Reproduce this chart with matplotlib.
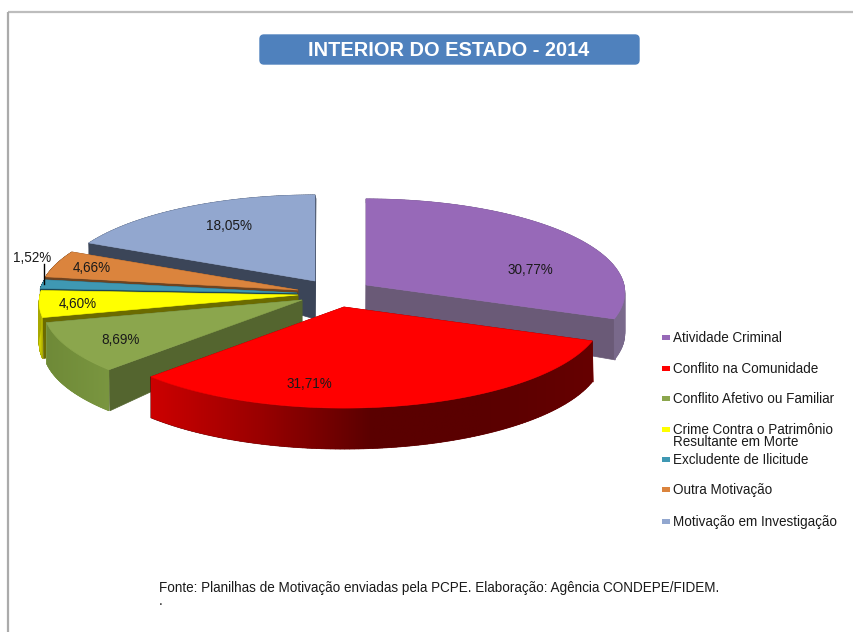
import numpy as np
import matplotlib
matplotlib.use("Agg")
import matplotlib.pyplot as plt
from matplotlib.colors import LinearSegmentedColormap
from matplotlib.patches import FancyBboxPatch, Polygon, Rectangle

plt.rcParams["font.family"] = ["Liberation Sans", "DejaVu Sans"]

categories = [
    "Atividade Criminal",
    "Conflito na Comunidade",
    "Conflito Afetivo ou Familiar",
    "Crime Contra o Patrimônio\nResultante em Morte",
    "Excludente de Ilicitude",
    "Outra Motivação",
    "Motivação em Investigação",
]
values = [30.77, 31.71, 8.69, 4.60, 1.52, 4.66, 18.05]
value_labels = ["30,77%", "31,71%", "8,69%", "4,60%", "1,52%", "4,66%", "18,05%"]

# styles per slice
top_colors = ["#9769B8", "#FF0000", "#8BA64D", "#FFFF00", "#3F98B3", "#DB843D", "#92A7CF"]
cut_colors = ["#6A5A77", "#7A0000", "#54652F", "#6B6B00", "#1C4654", "#6E4320", "#3B4558"]
# outer wall shades, left to right on screen
rim_colors = [
    ["#6F5C80", "#7A6A8C"],
    ["#CC0000", "#990000", "#5A0000", "#5A0000", "#660000"],
    ["#6F8A38", "#7A9640"],
    ["#E0E000", "#A8A800"],
    ["#1C4654", "#1C4654"],
    ["#6E4320", "#6E4320"],
    ["#3B4558", "#3B4558"],
]
# exploded position of each slice tip, in pixels
apex = [(366, 285), (344, 307), (302, 300), (298, 295), (297, 293), (298, 290), (315, 281)]
apex_depth = [32, 38, 22, 8, 4, 3, 38]
draw_order = [6, 5, 4, 3, 2, 0, 1]
label_pos = [(530, 270), (309, 384), (121, 340), (78, 304), (32, 258), (92, 268), (229, 226)]
legend_y = [338, 369, 399, 436, 460, 490, 522]

RX, RY, PERSP = 258, 93, 0.08
TEXT_SIZE = 9.75


def rim(angle, ax0, ay0):
    # angle in radians, clockwise from 12 o'clock
    u, v = np.sin(angle), np.cos(angle)
    s = 1 / (1 + PERSP * v)
    return ax0 + RX * u * s, ay0 - RY * v * s


def rim_depth(angle):
    v = np.cos(angle)
    return np.clip(41 - v * 68, 4, 41)


fig = plt.figure(figsize=(8.54, 6.32), dpi=100)
ax = fig.add_axes([0, 0, 1, 1])
ax.axis("off")

# frame
ax.plot([8, 854], [12, 12], color="#BDBDBD", lw=1.6, solid_capstyle="butt")
ax.plot([8, 8], [12, 632], color="#ABABAB", lw=1.6, solid_capstyle="butt")

# title box
ax.add_patch(FancyBboxPatch((260, 35), 379, 29, boxstyle="round,pad=0,rounding_size=4",
                            fc="#4F81BD", ec="#4F81BD", lw=1))
ax.text(449, 51, "INTERIOR DO ESTADO - 2014", color="white", fontsize=14.4,
        fontweight="bold", ha="center", va="center")

bounds = np.concatenate([[0], np.cumsum(values)]) / sum(values) * 2 * np.pi

for i in draw_order:
    t0, t1 = bounds[i], bounds[i + 1]
    a = apex[i]
    angles = np.linspace(t0, t1, 120)
    xs, ys = rim(angles, *a)
    ds = rim_depth(angles)
    d_apex = apex_depth[i]
    z = 2 + draw_order.index(i)

    # flat cut walls
    for j in (0, -1):
        ax.add_patch(Polygon([a, (xs[j], ys[j]), (xs[j] + 1, ys[j] + ds[j]),
                              (a[0], a[1] + d_apex)],
                             fc=cut_colors[i], ec=cut_colors[i], lw=0.5, zorder=z))
    # solid wall first, it fills what the gradient clip misses where the rim turns back
    for k in range(len(angles) - 1):
        ax.add_patch(Polygon([(xs[k], ys[k]), (xs[k + 1], ys[k + 1]),
                              (xs[k + 1], ys[k + 1] + ds[k + 1]), (xs[k], ys[k] + ds[k])],
                             fc=rim_colors[i][-1], ec=rim_colors[i][-1], lw=0.5, zorder=z + 0.05))
    # outer wall, shaded with a gradient clipped to its outline
    wall = Polygon(np.vstack([np.column_stack([xs, ys]),
                              np.column_stack([xs, ys + ds])[::-1]]),
                   fc="none", ec="none", transform=ax.transData)
    ax.add_patch(wall)
    cmap = LinearSegmentedColormap.from_list(f"rim{i}", rim_colors[i])
    img = ax.imshow(np.linspace(0, 1, 256)[None, :], cmap=cmap, aspect="auto", zorder=z + 0.1,
                    extent=(xs.min(), xs.max(), (ys + ds).max(), ys.min()))
    img.set_clip_path(wall)
    # top face
    ax.add_patch(Polygon(np.vstack([[a], np.column_stack([xs, ys])]),
                         fc=top_colors[i], ec=top_colors[i], lw=0.4, zorder=z + 0.5))
    ax.text(label_pos[i][0], label_pos[i][1], value_labels[i], fontsize=TEXT_SIZE, color="#1A1A1A",
            ha="center", va="center", zorder=20)

# leader for the small slice
ax.plot([44, 44], [264, 284], color="black", lw=1, zorder=19)

# legend
for name, col, y in zip(categories, top_colors, legend_y):
    square_y = y - 6 if "\n" in name else y
    ax.add_patch(Rectangle((662, square_y - 3.5), 8, 5.5, fc=col, ec="none"))
    ax.text(673, y, name, fontsize=TEXT_SIZE, color="#1A1A1A", va="center", ha="left",
            linespacing=0.9)

# source note
ax.text(159, 588, "Fonte: Planilhas de Motivação enviadas pela PCPE. Elaboração: Agência CONDEPE/FIDEM.",
        fontsize=TEXT_SIZE, color="#1A1A1A", va="center", ha="left")
ax.text(159, 601, ".", fontsize=TEXT_SIZE, color="#1A1A1A", va="center", ha="left")

ax.set_xlim(0, 854)
ax.set_ylim(632, 0)
fig.savefig("out.png", dpi=100)
